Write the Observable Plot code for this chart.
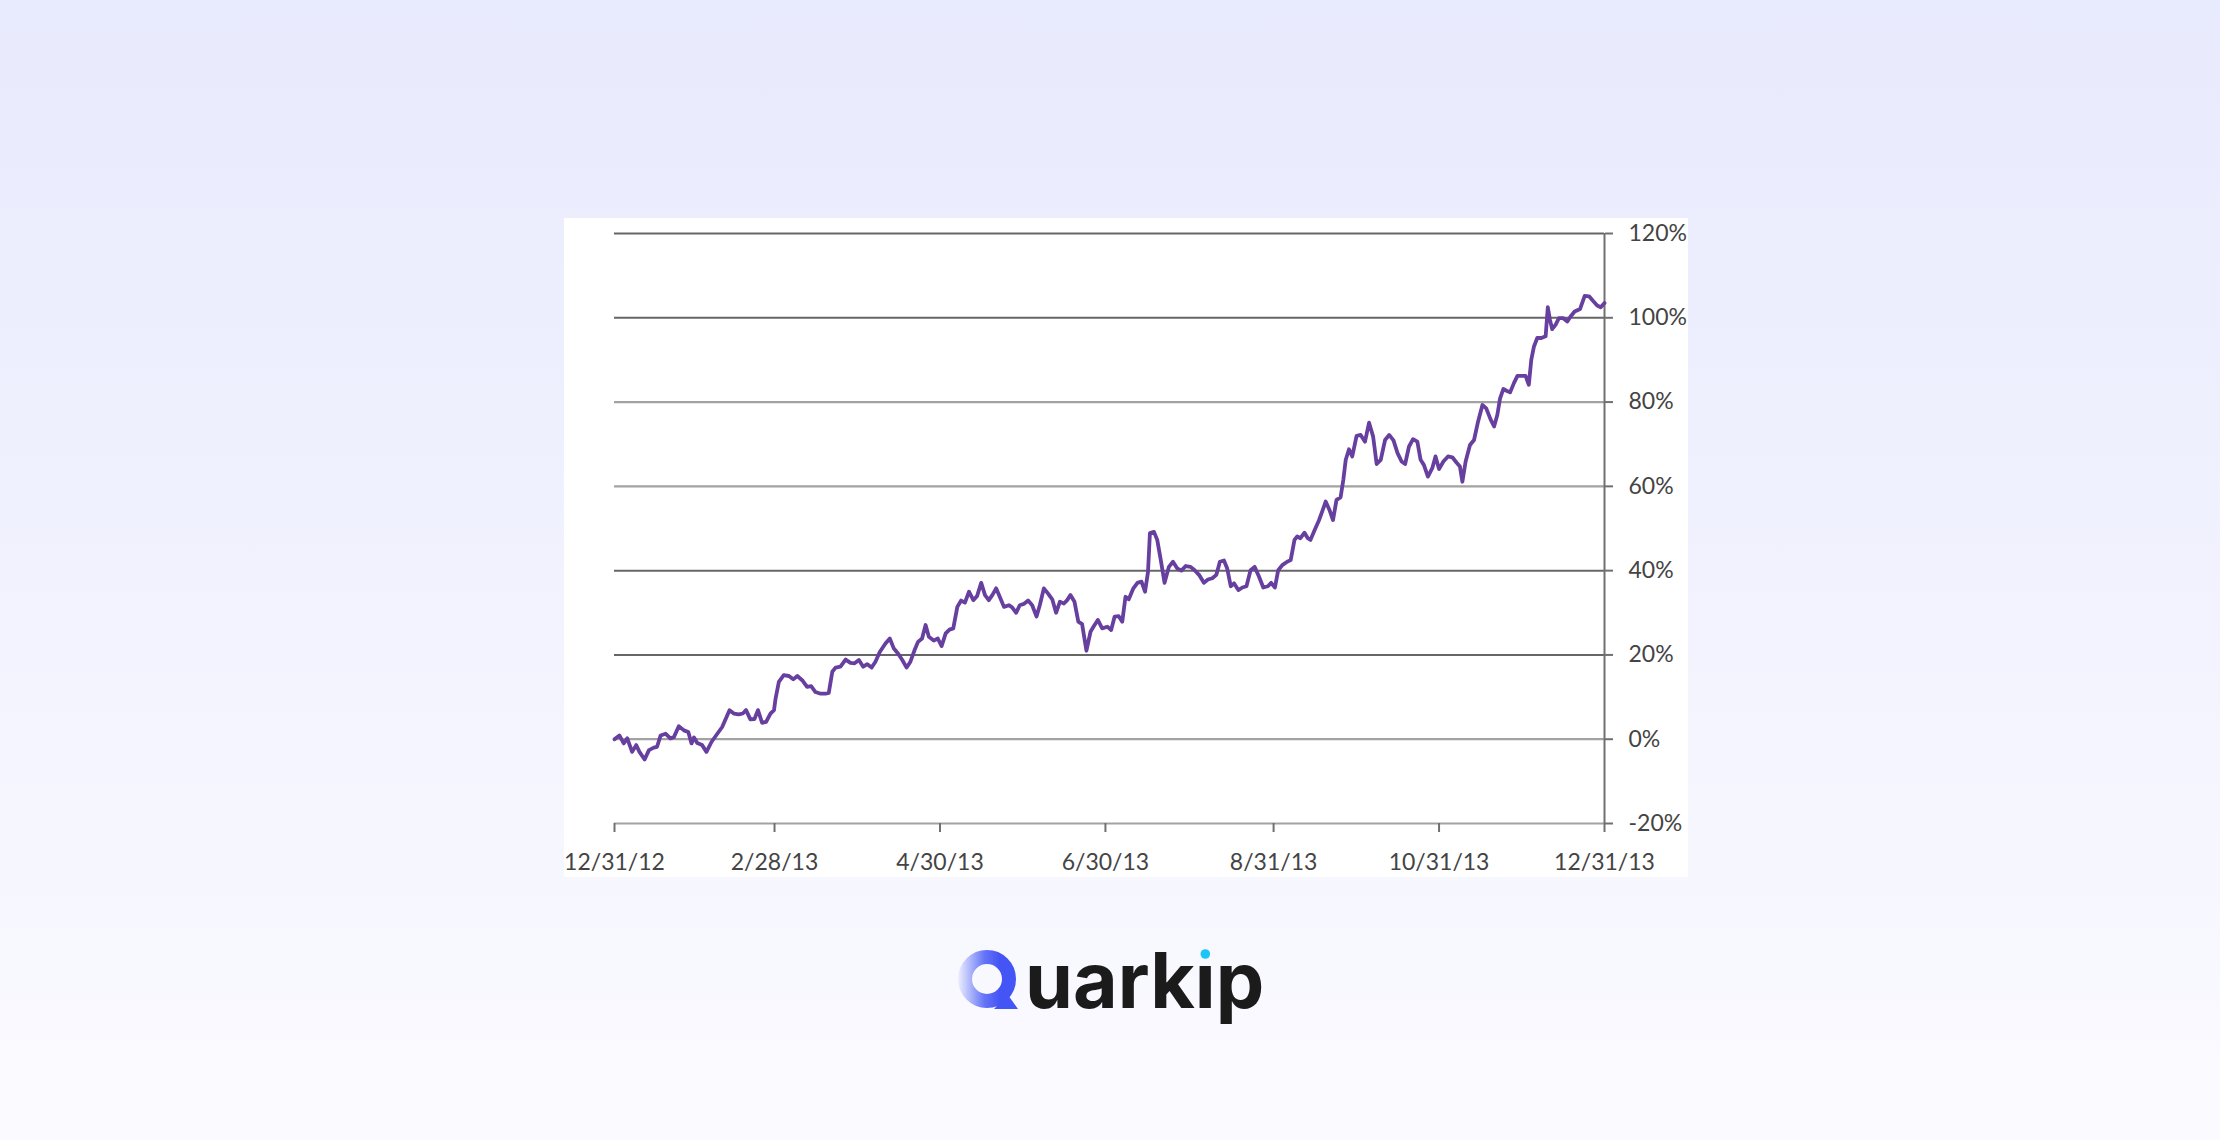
<!DOCTYPE html>
<html><head><meta charset="utf-8">
<script src="https://cdn.jsdelivr.net/npm/d3@7"></script>
<script src="https://cdn.jsdelivr.net/npm/@observablehq/plot@0.6"></script>
<style>
html,body{margin:0;padding:0;}
body{width:2220px;height:1140px;position:relative;overflow:hidden;background:linear-gradient(180deg,#e8eafd 0%,#f1f2fe 50%,#fbfbff 100%);font-family:Lato,sans-serif;}
#chart{position:absolute;left:564px;top:218px;width:1124px;height:659px;background:#fff;}
#logo{position:absolute;left:0;top:0;pointer-events:none;}
</style></head><body>
<div id="chart"></div>
<svg id="logo" width="2220" height="1140">
  <defs>
    <linearGradient id="qgrad" x1="958" y1="0" x2="1017" y2="0" gradientUnits="userSpaceOnUse">
      <stop offset="0" stop-color="#eceefe"/>
      <stop offset="0.45" stop-color="#6474f7"/>
      <stop offset="0.7" stop-color="#4555f5"/>
      <stop offset="1" stop-color="#4455f5"/>
    </linearGradient>
  </defs>
  <circle cx="987" cy="979" r="22" fill="none" stroke="url(#qgrad)" stroke-width="14"/>
  <polygon points="994,1009 1008,995 1018,1009" fill="#4455f5"/>
  <text id="word" x="1025" y="1008" font-family="Inter" font-weight="700" font-size="77" fill="#1b1b1b">uarkıp</text>
  <circle id="idot" cx="1199" cy="954" r="4.8" fill="#1ec4f6"/>
</svg>
<script>
const startDate = new Date(Date.UTC(2012, 11, 31));
const endDate = new Date(Date.UTC(2013, 11, 31));
const tickDates = ["2012-12-31","2013-02-28","2013-04-30","2013-06-30","2013-08-31","2013-10-31","2013-12-31"];
const yTicks = [-20, 0, 20, 40, 60, 80, 100, 120];
const darkGrid = [20, 40, 100, 120];

// trading-day positions, in days after 12/31/12
const dayOffsets = [
  0,1.8,3.4,4.7,6.5,8.0,9.2,11.1,12.7,14.5,15.7,17.0,18.8,20.6,21.9,23.7,25.6,27.2,28.4,29.3,30.5,32.3,33.9,35.8,37.9,39.7,
  42.4,44.0,45.8,47.3,48.5,50.1,51.6,52.9,54.4,55.9,57.5,58.8,
  59.4,60.6,62.4,64.3,65.9,67.4,69.2,71.0,72.5,74.1,76.0,77.8,79.0,80.3,81.5,83.3,85.2,87.0,88.5,90.1,91.7,93.2,94.8,96.2,
  97.8,99.9,101.5,103.0,104.6,106.1,107.7,109.1,110.6,111.9,113.4,114.7,115.9,
  117.7,119.2,120.6,122.1,123.5,124.9,126.4,127.8,129.2,130.7,132.3,133.7,135.2,136.6,138.0,139.3,140.7,142.3,143.6,145.4,
  146.6,148.1,149.4,150.9,152.5,154.0,155.6,156.8,158.3,159.8,161.4,162.8,164.2,165.7,166.9,168.1,169.6,171.0,172.4,174.0,175.5,
  176.7,178.2,179.8,181.7,183.1,184.4,185.9,187.2,188.4,189.6,191.3,192.8,194.3,195.6,196.7,197.4,198.9,200.1,201.3,202.8,
  204.4,205.9,207.5,209.0,210.6,212.4,213.9,215.5,217.3,218.8,220.4,221.9,223.2,224.7,225.9,227.2,228.4,230.0,231.5,233.0,
  234.5,236.0,237.6,239.2,240.9,242.1,243.5,244.7,246.2,248.0,249.3,250.7,251.7,252.9,254.4,255.6,256.6,258.1,259.7,260.9,
  262.2,263.6,264.9,266.2,267.7,268.7,269.6,270.8,272.0,273.6,275.1,276.7,278.2,279.7,281.0,282.5,284.1,285.6,287.2,288.7,
  290.2,291.5,292.9,294.4,296.0,
  297.2,298.4,299.9,301.5,302.7,304.0,305.6,307.3,308.9,310.5,311.7,312.6,313.8,315.4,316.9,318.4,320.0,321.4,323.0,324.3,
  325.5,326.5,327.7,328.9,330.2,331.6,332.9,334.3,335.9,337.1,338.0,339.0,340.2,341.7,343.3,344.1,344.9,345.7,347.0,348.2,
  349.8,351.3,352.5,354.0,356.0,357.7,359.3,360.9,362.3,363.6,365.0
];
// cumulative return, %
const returns = [
  0,0.9,-1.0,0.2,-3.0,-1.4,-3.0,-4.8,-2.6,-2.0,-1.8,0.9,1.3,0.2,0.5,3.1,2.1,1.7,-1.0,0.4,-0.9,-1.4,-3.0,-0.6,1.3,2.9,
  6.9,6.1,5.9,6.1,6.9,4.7,4.8,6.9,3.9,4.1,6.1,6.9,
  9.7,13.6,15.2,15.0,14.2,15.0,14.0,12.4,12.6,11.2,10.8,10.8,11.0,16.0,17.0,17.2,18.9,18.1,18.0,18.8,17.2,17.8,17.0,18.4,
  20.7,22.7,23.9,21.5,20.3,18.8,17.0,18.4,21.1,23.1,23.9,27.1,24.3,
  23.4,23.9,22.1,25.1,26.0,26.3,31.4,32.9,32.4,35.0,33.0,34.0,37.1,34.2,33.0,34.2,35.8,33.4,31.4,31.8,
  31.3,30.0,31.8,32.1,32.9,31.8,29.1,31.8,35.8,34.6,33.2,30.0,32.6,32.2,33.0,34.2,32.6,27.9,27.3,21.0,25.5,
  26.8,28.3,26.3,26.7,25.9,29.1,29.2,27.9,33.8,33.2,35.8,37.1,37.4,35.0,39.7,48.9,49.2,47.3,42.9,37.1,
  40.9,42.1,40.5,40.0,41.1,40.9,40.1,39.0,37.1,37.9,38.2,39.0,42.1,42.4,40.5,36.3,37.0,35.4,36.0,36.3,
  40.1,40.9,38.6,36.0,36.3,37.1,36.0,40.1,41.3,42.1,42.5,47.3,48.1,47.7,49.0,47.7,47.3,49.6,51.9,54.0,
  56.4,54.4,52.0,56.8,57.4,61.5,66.3,68.8,67.1,72.0,72.2,70.6,75.1,71.8,65.3,66.3,71.0,72.2,70.9,67.9,
  65.9,65.3,69.4,71.2,70.6,
  66.3,65.1,62.3,64.3,67.1,64.1,65.9,67.1,66.9,65.6,64.7,61.1,65.9,69.8,71.0,75.4,79.3,78.5,75.9,74.2,
  77.0,80.9,83.1,82.7,82.3,84.5,86.2,86.2,86.2,84.1,90.0,93.2,95.2,95.2,95.6,102.5,99.5,97.3,98.4,99.9,
  99.9,99.1,100.3,101.5,102.1,105.2,105.1,103.9,102.9,102.5,103.5
];

const series = dayOffsets.map((d, i) => ({date: new Date(startDate.getTime() + d * 864e5), value: returns[i]}));
const xTicks = tickDates.map(s => new Date(s + "T00:00:00Z"));

const chart = Plot.plot({
  width: 1124,
  height: 659,
  marginLeft: 50,
  marginRight: 84,
  marginTop: 15,
  marginBottom: 54,
  style: {background: "#fff", fontFamily: "Lato, sans-serif", fontSize: "23px", color: "#444", overflow: "visible"},
  x: {type: "utc", domain: [startDate, endDate]},
  y: {domain: [-20, 120]},
  marks: [
    Plot.ruleY(yTicks.filter(v => !darkGrid.includes(v)), {stroke: "#a2a2a2", strokeWidth: 2.2}),
    Plot.ruleY(yTicks.filter(v => darkGrid.includes(v)), {stroke: "#666", strokeWidth: 2}),
    Plot.ruleX([endDate], {y1: -20, y2: 120, stroke: "#707070", strokeWidth: 2}),
    Plot.axisX({ticks: xTicks, tickFormat: d3.utcFormat("%-m/%-d/%y"), tickSize: 9, tickPadding: 21, stroke: "#707070", strokeWidth: 2, fill: "#444", label: null}),
    Plot.axisY({anchor: "right", ticks: yTicks, tickFormat: d => d + "%", tickSize: 8, tickPadding: 16, textAnchor: "start", stroke: "#707070", strokeWidth: 2, fill: "#444", label: null}),
    Plot.lineY(series, {x: "date", y: "value", stroke: "#673f9f", strokeWidth: 3.8, strokeLinejoin: "round"})
  ]
});
document.getElementById("chart").appendChild(chart);

// place the cyan dot over the dotless i of the wordmark
const word = document.getElementById("word");
try {
  const a = word.getStartPositionOfChar(4), b = word.getEndPositionOfChar(4);
  document.getElementById("idot").setAttribute("cx", (a.x + b.x) / 2);
} catch (e) {}
</script>
</body></html>
